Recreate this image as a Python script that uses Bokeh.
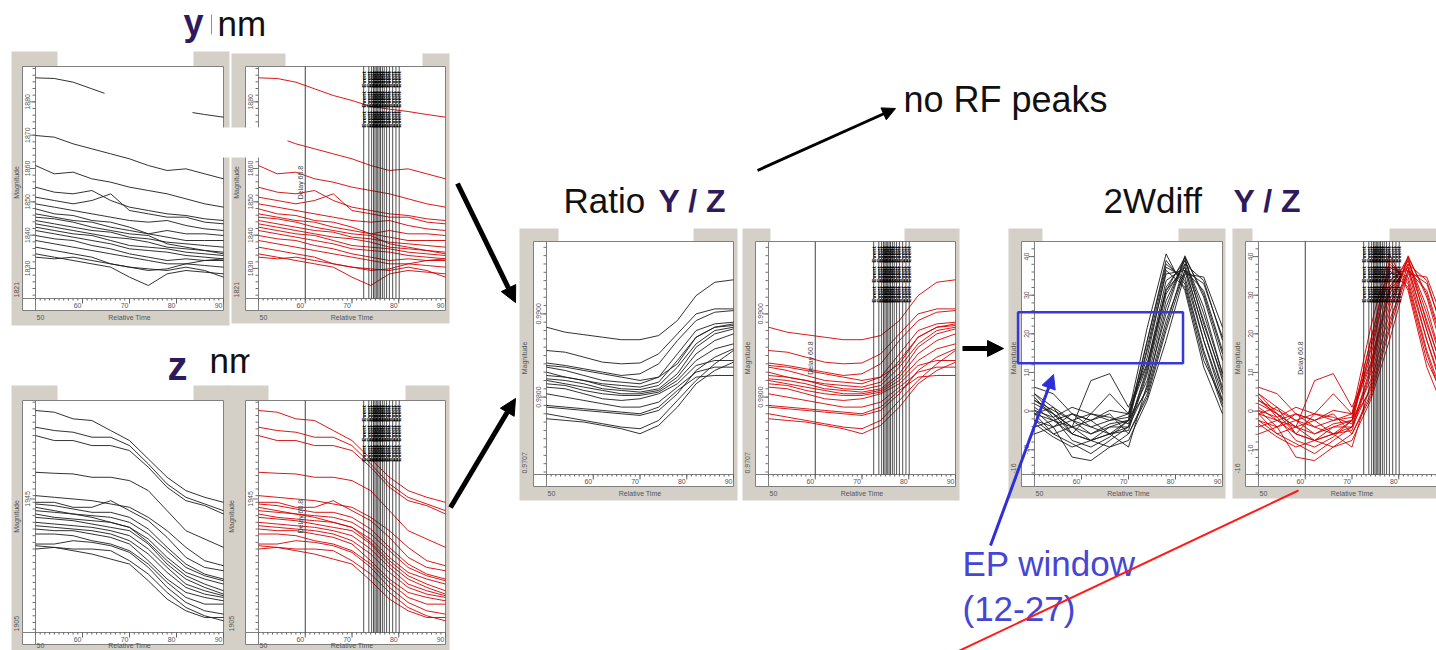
import math
from bokeh.plotting import figure
from bokeh.models import Range1d, Arrow, NormalHead
from bokeh.core.properties import value
from bokeh.embed import file_html
from bokeh.resources import INLINE

# ---------------- data ----------------
TIME = [50, 54, 58, 62, 66, 70, 74, 78, 82, 86, 90]

Y_NM = [
    [1887.2, 1887.0, 1885.9, 1883.9, 1881.9, 1880.4, 1878.6, 1877.8, 1877.1, 1876.2, 1875.4],
    [1869.9, 1869.4, 1867.4, 1865.9, 1864.4, 1862.9, 1860.9, 1859.4, 1859.9, 1858.4, 1856.9],
    [1860.9, 1858.4, 1858.9, 1856.9, 1855.9, 1854.4, 1853.4, 1852.4, 1850.9, 1849.4, 1848.4],
    [1854.4, 1852.9, 1852.4, 1853.4, 1850.4, 1848.4, 1847.4, 1846.4, 1845.9, 1844.9, 1844.4],
    [1851.4, 1850.4, 1849.4, 1850.4, 1852.4, 1847.4, 1846.4, 1845.4, 1845.4, 1843.9, 1843.4],
    [1849.4, 1848.4, 1847.4, 1846.4, 1845.4, 1844.4, 1843.9, 1844.4, 1842.9, 1841.9, 1841.4],
    [1847.9, 1846.4, 1845.9, 1844.4, 1843.9, 1842.4, 1840.4, 1841.4, 1840.4, 1840.4, 1839.9],
    [1846.4, 1845.4, 1844.4, 1843.9, 1842.4, 1841.4, 1840.4, 1839.4, 1838.4, 1838.4, 1838.4],
    [1844.4, 1843.4, 1842.4, 1841.4, 1840.9, 1839.4, 1838.9, 1837.9, 1837.4, 1836.9, 1836.4],
    [1843.4, 1842.4, 1841.4, 1840.4, 1839.4, 1838.9, 1837.9, 1836.4, 1835.9, 1835.4, 1834.9],
    [1842.4, 1841.4, 1840.4, 1839.9, 1838.4, 1836.9, 1836.4, 1835.9, 1834.9, 1834.4, 1833.9],
    [1841.4, 1840.4, 1839.4, 1838.4, 1837.4, 1835.9, 1835.4, 1834.9, 1833.9, 1833.4, 1832.9],
    [1839.9, 1838.9, 1838.4, 1836.9, 1835.9, 1834.4, 1833.4, 1832.4, 1832.9, 1832.4, 1832.4],
    [1838.4, 1837.4, 1836.4, 1835.4, 1834.4, 1833.4, 1832.4, 1831.4, 1831.4, 1830.9, 1830.4],
    [1836.4, 1835.4, 1834.4, 1833.4, 1831.4, 1830.4, 1829.9, 1829.4, 1830.4, 1829.4, 1827.4],
    [1834.4, 1833.4, 1832.4, 1831.4, 1830.4, 1827.4, 1824.9, 1828.4, 1829.4, 1828.9, 1828.4],
    [1833.4, 1832.9, 1833.4, 1832.4, 1831.4, 1830.4, 1829.4, 1829.9, 1831.4, 1832.4, 1832.9],
    [1845.4, 1844.9, 1843.9, 1842.4, 1841.4, 1840.4, 1839.9, 1837.4, 1836.4, 1835.4, 1834.4],
]

Z_NM = [
    [1971.5, 1971.0, 1969.0, 1968.5, 1965.5, 1962.5, 1957.0, 1951.5, 1947.5, 1945.5, 1944.0],
    [1966.5, 1965.5, 1965.0, 1963.5, 1963.5, 1961.0, 1955.5, 1949.5, 1945.5, 1943.5, 1941.5],
    [1964.0, 1962.5, 1962.5, 1961.0, 1961.0, 1959.5, 1954.5, 1948.5, 1944.5, 1943.0, 1940.5],
    [1953.0, 1952.7, 1952.5, 1951.5, 1951.5, 1950.5, 1947.5, 1941.5, 1935.5, 1933.0, 1930.5],
    [1946.0, 1945.5, 1945.0, 1944.5, 1943.5, 1942.5, 1939.5, 1935.5, 1930.5, 1926.5, 1925.0],
    [1944.0, 1944.0, 1942.5, 1942.5, 1944.5, 1941.5, 1938.5, 1933.5, 1927.5, 1924.5, 1923.5],
    [1943.5, 1943.0, 1942.0, 1941.0, 1941.0, 1939.5, 1936.0, 1930.5, 1925.5, 1922.5, 1921.0],
    [1941.5, 1941.0, 1940.5, 1940.0, 1939.5, 1938.0, 1934.5, 1929.5, 1924.5, 1922.0, 1920.5],
    [1940.5, 1939.5, 1939.0, 1938.5, 1938.0, 1936.5, 1933.0, 1927.5, 1923.0, 1921.0, 1919.5],
    [1939.5, 1939.0, 1938.5, 1937.5, 1936.5, 1935.5, 1931.5, 1925.5, 1921.0, 1918.5, 1916.5],
    [1938.0, 1937.5, 1937.0, 1936.5, 1935.5, 1934.0, 1930.0, 1924.5, 1919.5, 1917.5, 1916.0],
    [1937.0, 1936.5, 1936.0, 1935.5, 1934.5, 1932.5, 1928.5, 1923.0, 1918.5, 1916.5, 1915.5],
    [1936.0, 1935.5, 1935.5, 1934.5, 1933.5, 1931.5, 1926.5, 1921.0, 1917.0, 1915.5, 1914.5],
    [1934.5, 1934.5, 1934.0, 1932.5, 1931.5, 1929.5, 1925.5, 1920.0, 1915.5, 1913.5, 1913.5],
    [1931.5, 1931.5, 1932.5, 1932.0, 1931.0, 1929.0, 1924.5, 1918.5, 1914.0, 1911.5, 1910.5],
    [1931.0, 1930.5, 1930.0, 1930.0, 1929.5, 1926.5, 1922.5, 1917.0, 1912.5, 1910.0, 1908.5],
    [1930.0, 1930.5, 1929.5, 1928.5, 1927.0, 1925.5, 1920.5, 1915.0, 1911.5, 1909.5, 1909.5],
    [1942.5, 1941.5, 1940.5, 1939.5, 1938.0, 1936.5, 1932.0, 1926.5, 1922.0, 1919.5, 1917.5],
]

RATIO_YZ = [
    [0.9884, 0.9878, 0.9875, 0.9872, 0.9869, 0.9869, 0.9874, 0.9892, 0.9922, 0.9938, 0.9941],
    [0.9856, 0.9854, 0.9848, 0.9842, 0.9840, 0.9841, 0.9852, 0.9876, 0.9900, 0.9906, 0.9906],
    [0.9841, 0.9838, 0.9834, 0.9830, 0.9826, 0.9828, 0.9840, 0.9868, 0.9892, 0.9902, 0.9904],
    [0.9836, 0.9832, 0.9826, 0.9820, 0.9818, 0.9816, 0.9824, 0.9852, 0.9880, 0.9888, 0.9890],
    [0.9830, 0.9824, 0.9820, 0.9816, 0.9814, 0.9812, 0.9818, 0.9844, 0.9872, 0.9884, 0.9888],
    [0.9826, 0.9824, 0.9820, 0.9814, 0.9810, 0.9809, 0.9814, 0.9836, 0.9864, 0.9880, 0.9884],
    [0.9822, 0.9820, 0.9816, 0.9810, 0.9808, 0.9806, 0.9810, 0.9828, 0.9860, 0.9876, 0.9882],
    [0.9820, 0.9816, 0.9812, 0.9808, 0.9804, 0.9804, 0.9808, 0.9824, 0.9852, 0.9868, 0.9876],
    [0.9816, 0.9814, 0.9808, 0.9804, 0.9802, 0.9802, 0.9806, 0.9820, 0.9844, 0.9858, 0.9864],
    [0.9812, 0.9810, 0.9804, 0.9798, 0.9796, 0.9798, 0.9804, 0.9816, 0.9838, 0.9844, 0.9844],
    [0.9804, 0.9800, 0.9796, 0.9792, 0.9788, 0.9788, 0.9794, 0.9812, 0.9830, 0.9836, 0.9836],
    [0.9790, 0.9788, 0.9786, 0.9784, 0.9782, 0.9780, 0.9788, 0.9808, 0.9824, 0.9826, 0.9826],
    [0.9788, 0.9786, 0.9784, 0.9782, 0.9780, 0.9778, 0.9784, 0.9804, 0.9832, 0.9848, 0.9858],
    [0.9780, 0.9776, 0.9772, 0.9768, 0.9764, 0.9762, 0.9772, 0.9796, 0.9820, 0.9840, 0.9856],
    [0.9774, 0.9772, 0.9770, 0.9766, 0.9762, 0.9756, 0.9766, 0.9788, 0.9816, 0.9832, 0.9842],
    [0.9838, 0.9836, 0.9832, 0.9828, 0.9824, 0.9820, 0.9824, 0.9840, 0.9872, 0.9884, 0.9886],
]

WDIFF_YZ = [
    [6.2, 4.5, -0.7, -2.4, 0.2, -0.7, 12.0, 33.8, 37.2, 20.9, 6.2],
    [4.5, -0.7, -4.1, -5.9, -3.3, -2.4, 8.0, 28.6, 39.0, 26.9, 9.7],
    [2.8, 0.2, -2.4, -0.7, 4.5, -0.7, 14.0, 36.4, 32.1, 13.1, 2.8],
    [-0.7, 1.0, -5.9, -7.6, -5.9, -4.1, 6.2, 26.9, 39.8, 30.3, 14.8],
    [1.0, -2.4, -4.1, -2.4, -0.7, -5.9, 4.5, 22.0, 38.1, 33.8, 18.3],
    [-2.4, -4.1, -0.7, -4.1, -5.9, -5.0, 9.7, 30.3, 38.1, 23.4, 7.9],
    [3.6, -1.6, -7.6, -9.3, -6.7, -2.4, 18.3, 39.0, 32.9, 14.8, 1.0],
    [-0.7, -5.9, -8.4, -11.0, -7.6, -4.1, 10.5, 32.1, 39.0, 25.2, 9.7],
    [-4.1, -2.4, -5.9, -0.7, -1.6, -3.3, 16.6, 37.2, 34.7, 18.3, 4.5],
    [0.2, -4.1, -11.9, -12.8, -9.3, -5.9, 3.6, 20.9, 36.4, 33.0, 19.1],
    [1.9, -0.7, -4.1, 7.9, 9.7, 1.0, 12.4, 31.2, 39.8, 22.5, 8.8],
    [-2.4, -5.9, -4.1, -7.6, -9.3, -7.6, 2.8, 18.3, 35.5, 34.7, 21.7],
    [4.5, 1.0, -2.4, -4.1, -2.4, -0.7, 21.7, 40.7, 31.2, 11.4, -0.7],
    [-5.9, -4.1, -2.4, -5.9, -4.1, -2.4, 15.7, 35.5, 36.4, 18.3, 2.8],
    [-0.7, -2.4, -0.7, -2.4, -5.9, -9.3, 7.1, 25.2, 40.2, 29.5, 13.1],
    [-3.3, -6.7, -9.3, -7.6, -4.1, -4.1, 11.4, 31.2, 37.2, 20.9, 5.4],
    [2.8, -0.7, -5.9, -7.6, -5.9, -2.4, 5.4, 23.4, 36.4, 31.2, 15.7],
    [0.2, -1.6, 1.0, -0.7, -2.4, -1.6, 18.3, 38.1, 33.8, 15.7, 1.9],
]

X_LIM = (50, 90)
X_TICKS = [60, 70, 80, 90]

Y_LIM = (1821.0, 1890.6)
Y_TICKS = [1830, 1840, 1850, 1860, 1870, 1880]
Y_TICK_LABELS = ["1830", "1840", "1850", "1860", "1870", "1880"]
Y_MIN_LABEL = "1821"

Z_LIM = (1905.0, 1974.5)
Z_TICKS = [1945]
Z_TICK_LABELS = ["1945"]
Z_MIN_LABEL = "1905"

R_LIM = (0.9707, 0.9987)
R_TICKS = [0.98, 0.99]
R_TICK_LABELS = ["0.9800", "0.9900"]
R_MIN_LABEL = "0.9707"

W_LIM = (-16.4, 43.9)
W_TICKS = [-10, 0, 10, 20, 30, 40]
W_TICK_LABELS = ["-10", "0", "10", "20", "30", "40"]
W_MIN_LABEL = "-16"

MARKER_TIMES = [72.5, 73.6, 74.2, 74.6, 74.9, 75.2, 75.5, 75.8, 76.1, 76.5,
                76.9, 77.4, 78.0, 78.7, 79.4, 80.1]
DELAY_TIME = 60.0
DELAY_LABEL = "Delay 60.8"

EP_TIME = [46.5, 81.6]
EP_MAG = [12.4, 25.6]

# ---------------- styles ----------------
W, H = 1436, 650
GREY = "#d4d0c8"
FRAME = "#808080"
TXT = "#555555"
PURPLE = "#2e1a5c"
BLUE = "#3838d8"
BLACK_LINE = "#1c1c1c"
RED_LINE = "#d40000"
FONT = value("Liberation Sans")

p = figure(width=W, height=H, x_range=Range1d(0, W), y_range=Range1d(H, 0),
           x_axis_type=None, y_axis_type=None, toolbar_location=None,
           output_backend="svg", min_border=0)
p.grid.visible = False
p.outline_line_color = None
p.background_fill_color = "white"
p.border_fill_color = "white"


def small_text(api, x, y, text, size="7px", angle=0.0, align="center",
               baseline="middle", color=TXT, x_offset=0, style="normal"):
    api.text(x=x, y=y, text=text, angle=angle, text_align=align,
             text_baseline=baseline, text_font=FONT, text_font_size=size,
             text_color=color, x_offset=x_offset, text_font_style=style)


def draw_panel(box, plot, tabs, data, ylim, yticks, ylabels, ymin_label,
               ystep, color, markers):
    ox0, oy0, ox1, oy1 = box
    L, T, R, B = plot
    tl, tr = tabs
    # window frame
    p.quad(left=[ox0], right=[ox1], top=[oy0], bottom=[oy1],
           fill_color=GREY, line_color=None)
    p.quad(left=[tl], right=[tr], top=[oy0 - 1], bottom=[T],
           fill_color="white", line_color=None)
    p.quad(left=[L - 13], right=[R], top=[T], bottom=[B + 12],
           fill_color="white", line_color=FRAME, line_width=1)
    p.segment(x0=[L, L - 13], y0=[T, B], x1=[L, R], y1=[B + 12, B],
              line_color=FRAME, line_width=1)

    sx = p.subplot(x_source=Range1d(*X_LIM), x_target=Range1d(L, R),
                   y_source=p.y_range, y_target=p.y_range)
    sy = p.subplot(x_source=p.x_range, x_target=p.x_range,
                   y_source=Range1d(*ylim), y_target=Range1d(B, T))
    sxy = p.subplot(x_source=Range1d(*X_LIM), x_target=Range1d(L, R),
                    y_source=Range1d(*ylim), y_target=Range1d(B, T))

    # x axis
    minor = list(range(X_LIM[0], X_LIM[1] + 1))
    sx.segment(x0=minor, x1=minor, y0=[B] * len(minor), y1=[B + 2] * len(minor),
               line_color="#606060", line_width=1)
    sx.segment(x0=X_TICKS, x1=X_TICKS, y0=[B] * len(X_TICKS),
               y1=[B + 5] * len(X_TICKS), line_color="#606060", line_width=1)
    visible = [t for t in X_TICKS if L + (t - X_LIM[0]) / (X_LIM[1] - X_LIM[0]) * (R - L) < W - 4]
    small_text(sx, visible, [B + 7] * len(visible), [str(t) for t in visible],
               align="right", x_offset=-1)
    yb = min(B + 19, H - 5)
    small_text(sx, [X_LIM[0]], [yb], [str(X_LIM[0])], align="left", x_offset=1)
    small_text(p, [(L + R) / 2], [yb], ["Relative Time"])

    # y axis
    start = math.ceil(ylim[0] / ystep)
    stop = math.floor(ylim[1] / ystep)
    yminor = [round(k * ystep, 6) for k in range(start, stop + 1)]
    sy.segment(x0=[L - 3] * len(yminor), x1=[L] * len(yminor), y0=yminor, y1=yminor,
               line_color="#707070", line_width=1)
    sy.segment(x0=[L - 6] * len(yticks), x1=[L] * len(yticks), y0=yticks, y1=yticks,
               line_color="#707070", line_width=1)
    small_text(sy, [L - 8] * len(yticks), yticks, ylabels, angle=math.pi / 2)
    small_text(p, [ox0 + 5], [B - 1], [ymin_label], angle=math.pi / 2, align="left")
    small_text(p, [ox0 + 5], [(T + B) / 2], ["Magnitude"], angle=math.pi / 2)

    # traces
    sxy.multi_line(xs=[TIME] * len(data), ys=data, line_color=color,
                   line_width=1, line_alpha=0.9)

    if markers:
        n = len(MARKER_TIMES)
        sx.segment(x0=[DELAY_TIME], x1=[DELAY_TIME], y0=[T], y1=[B],
                   line_color="#404040", line_width=1)
        small_text(sx, [DELAY_TIME], [(T + B) / 2], [DELAY_LABEL], size="7px",
                   angle=math.pi / 2, color="#404040", x_offset=-5)
        sx.segment(x0=MARKER_TIMES, x1=MARKER_TIMES, y0=[T] * n, y1=[B] * n,
                   line_color="#1a1a1a", line_width=1, line_alpha=0.75)
        for off in (13, 33, 53):
            small_text(sx, MARKER_TIMES, [T + off] * n, ["Event"] * n,
                       size="6px", angle=math.pi / 2, color="#000000", style="bold")
    return sxy


draw_panel((11, 51, 229, 325), (35, 66, 223, 298), (57, 193), Y_NM, Y_LIM,
           Y_TICKS, Y_TICK_LABELS, Y_MIN_LABEL, 2, BLACK_LINE, False)
draw_panel((231, 53, 449, 323), (258, 66, 445, 298), (285, 422), Y_NM, Y_LIM,
           Y_TICKS, Y_TICK_LABELS, Y_MIN_LABEL, 2, RED_LINE, True)
draw_panel((11, 385, 229, 660), (35, 400, 223, 632), (57, 193), Z_NM, Z_LIM,
           Z_TICKS, Z_TICK_LABELS, Z_MIN_LABEL, 2, BLACK_LINE, False)
draw_panel((226, 385, 449, 660), (258, 400, 445, 632), (268, 405), Z_NM, Z_LIM,
           Z_TICKS, Z_TICK_LABELS, Z_MIN_LABEL, 2, RED_LINE, True)
draw_panel((519, 228, 737, 500), (546, 241, 733, 474), (558, 693), RATIO_YZ, R_LIM,
           R_TICKS, R_TICK_LABELS, R_MIN_LABEL, 0.001, BLACK_LINE, False)
draw_panel((742, 228, 959, 500), (768, 241, 955, 474), (770, 904), RATIO_YZ, R_LIM,
           R_TICKS, R_TICK_LABELS, R_MIN_LABEL, 0.001, RED_LINE, True)
wblack = draw_panel((1008, 228, 1225, 498), (1034, 241, 1222, 474), (1042, 1178),
                    WDIFF_YZ, W_LIM, W_TICKS, W_TICK_LABELS, W_MIN_LABEL, 2,
                    BLACK_LINE, False)
draw_panel((1232, 228, 1460, 498), (1258, 241, 1445, 474), (1252, 1389), WDIFF_YZ,
           W_LIM, W_TICKS, W_TICK_LABELS, W_MIN_LABEL, 2, RED_LINE, True)

# EP window box
wblack.quad(left=[EP_TIME[0]], right=[EP_TIME[1]], bottom=[EP_MAG[0]], top=[EP_MAG[1]],
            fill_color=None, line_color=BLUE, line_width=2.5)

# slide occlusions (white shapes over the screenshots)
p.quad(left=[104, 222], right=[192, 287], top=[84, 127], bottom=[132, 157],
       fill_color="white", line_color=None)


# ---------------- slide texts ----------------
def big_text(x, baseline_y, text, size, color="#111111", bold=False):
    # anchor on the middle of the font box (baseline - 0.35 em)
    p.text(x=[x], y=[baseline_y - 0.35 * size], text=[text], text_font=FONT,
           text_font_size=f"{size}px", text_color=color, text_baseline="middle",
           text_align="left", text_font_style="bold" if bold else "normal")


big_text(183, 35, "y", 36, PURPLE, True)
p.segment(x0=[211], y0=[14], x1=[211], y1=[34], line_color="#909090", line_width=1)
big_text(217, 35, "nm", 35)
big_text(167, 379, "z", 40, PURPLE, True)
big_text(209, 372, "nm", 35)
p.quad(left=[249], right=[262], top=[346], bottom=[376], fill_color="white", line_color=None)
big_text(563, 212, "Ratio", 35)
big_text(658, 212, "Y / Z", 32, PURPLE, True)
big_text(1103, 212, "2Wdiff", 35)
big_text(1233, 212, "Y / Z", 32, PURPLE, True)
big_text(903, 112, "no RF peaks", 36)
big_text(962, 575, "EP window", 35, "#4646d6")
big_text(962, 620, "(12-27)", 35, "#4646d6")


# ---------------- arrows ----------------
def arrow(x0, y0, x1, y1, color, width, size):
    p.add_layout(Arrow(end=NormalHead(size=size, fill_color=color, line_color=color),
                       x_start=x0, y_start=y0, x_end=x1, y_end=y1,
                       line_color=color, line_width=width))


arrow(457, 183, 515, 302, "black", 5, 16)
arrow(450, 507, 515, 398, "black", 5, 16)
arrow(757, 170, 895, 108, "black", 3, 13)
arrow(962, 348, 1003, 348, "black", 5, 16)
arrow(990, 545, 1053, 374, "#2f2fd8", 3, 14)
p.segment(x0=[955], y0=[652], x1=[1298], y1=[490], line_color="#ff1a1a", line_width=2)

open("out.html", "w").write(file_html(p, INLINE))
